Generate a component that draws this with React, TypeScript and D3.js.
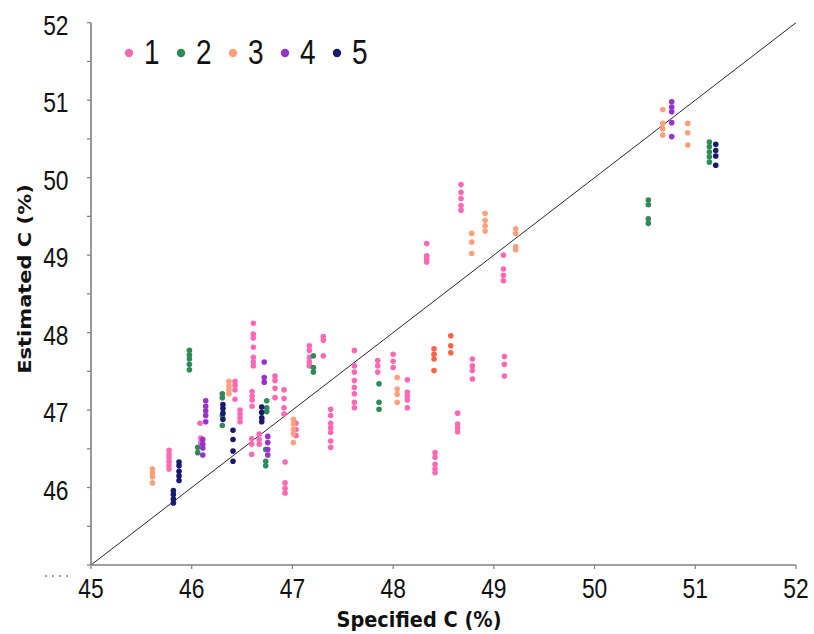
import React from "react";
import * as d3 from "d3";

// ---- data (clusters: [specified C, ...estimated C values]) ----
const series1: number[][] = [
  [45.775, 46.48, 46.43, 46.39, 46.34, 46.29, 46.24],
  [46.083, 46.83],
  [46.09, 46.64, 46.58],
  [46.43, 47.37, 47.32, 47.26, 47.14],
  [46.48, 47.0, 46.95, 46.9, 46.85],
  [46.612, 48.12, 47.98, 47.93, 47.81, 47.68, 47.62, 47.57],
  [46.6, 47.24, 47.18, 47.13, 47.05],
  [46.596, 46.63, 46.56, 46.43],
  [46.67, 46.69, 46.62, 46.56],
  [46.827, 47.44, 47.38, 47.28, 47.16],
  [46.917, 47.26, 47.15, 47.03, 46.95],
  [46.927, 46.33, 46.06, 45.99, 45.93],
  [47.036, 46.83, 46.75, 46.67],
  [47.168, 47.83, 47.77, 47.68, 47.62, 47.57],
  [47.307, 47.95, 47.9, 47.7],
  [47.38, 47.01, 46.93, 46.83, 46.77, 46.71, 46.6, 46.52],
  [47.615, 47.77, 47.57, 47.49, 47.38, 47.29, 47.21, 47.1, 47.03],
  [47.847, 47.64, 47.57, 47.49],
  [48.0, 47.72, 47.63, 47.55],
  [48.141, 47.39, 47.23, 47.18, 47.13, 47.03],
  [48.416, 46.45, 46.39, 46.3, 46.24, 46.19],
  [48.64, 46.96, 46.82, 46.77, 46.72],
  [48.787, 47.66, 47.57, 47.51, 47.4],
  [49.105, 47.69, 47.59, 47.44],
  [48.674, 49.91, 49.81, 49.73, 49.64, 49.58],
  [48.333, 49.15, 48.99, 48.95, 48.91],
  [49.095, 49.0, 48.82, 48.74, 48.67],
];
const series2: number[][] = [
  [45.977, 47.77, 47.71, 47.66, 47.59, 47.52],
  [46.06, 46.52, 46.45],
  [46.304, 47.21, 47.16, 46.93, 46.8],
  [46.745, 47.12, 47.03, 46.98],
  [46.735, 46.49, 46.34, 46.28],
  [47.208, 47.7, 47.55, 47.49],
  [47.86, 47.34, 47.1, 47.01],
  [50.534, 49.71, 49.65, 49.47, 49.41],
  [51.14, 50.46, 50.4, 50.33, 50.27, 50.2],
];
const series3: number[][] = [
  [45.61, 46.24, 46.19, 46.14, 46.06],
  [46.37, 47.37, 47.31, 47.26, 47.21],
  [46.7, 46.88],
  [47.01, 46.88, 46.82, 46.75, 46.69, 46.58],
  [48.04, 47.42, 47.27, 47.2, 47.1],
  [48.913, 49.54, 49.45, 49.38, 49.31],
  [48.78, 49.28, 49.17, 49.02],
  [49.217, 49.34, 49.28, 49.11, 49.07],
  [50.677, 50.88, 50.7, 50.63, 50.55],
  [50.925, 50.7, 50.58, 50.42],
];
const series4: number[][] = [
  [46.139, 47.12, 47.05, 46.99, 46.93, 46.85],
  [46.11, 46.62, 46.56, 46.51, 46.42],
  [46.72, 47.62, 47.42, 47.36],
  [46.755, 46.66, 46.58, 46.49, 46.42],
  [50.766, 50.98, 50.91, 50.85, 50.71, 50.53],
];
const series5: number[][] = [
  [45.818, 45.96, 45.91, 45.85, 45.8],
  [45.874, 46.33, 46.28, 46.21, 46.15, 46.09],
  [46.31, 47.07, 47.02, 46.96, 46.88],
  [46.41, 46.74, 46.62, 46.47, 46.34],
  [46.695, 47.04, 46.97, 46.9, 46.85],
  [51.203, 50.43, 50.35, 50.28, 50.16],
];
const seriesExtra: number[][] = [
  [48.406, 47.79, 47.72, 47.66, 47.51],
  [48.572, 47.96, 47.83, 47.74],
];

const legendLabels = ["1", "2", "3", "4", "5"];
const colors = ["#ff69b4", "#2e8b57", "#ffa07a", "#9932cc", "#191970"];
const extraColor = "#ff6347";
const xTicks = [45, 46, 47, 48, 49, 50, 51, 52];
const yTickLabels = [46, 47, 48, 49, 50, 51, 52];
const yTicks = d3.range(45, 52.01, 0.5);

const W = 814;
const H = 634;
const x = d3.scaleLinear().domain([45, 52]).range([91, 796]);
const y = d3.scaleLinear().domain([45, 52]).range([565, 22.7]);

function toPoints(clusters: number[][]) {
  const pts: { x: number; y: number }[] = [];
  clusters.forEach((c) => {
    for (let i = 1; i < c.length; i++) pts.push({ x: c[0], y: c[i] });
  });
  return pts;
}

const allSeries = [series1, series2, series3, series4, series5];
const tickFont = "'Liberation Sans', Arial, sans-serif";
const titleFont = "'DejaVu Sans', 'Open Sans', sans-serif";
const axisColor = "#7f7f7f";
const SX = 0.8; // horizontal squeeze of the text

export default function App() {
  return (
    <svg width={W} height={H} style={{ position: "absolute", left: 0, top: 0, background: "#fff" }}>
      {/* diagonal 1:1 line */}
      <line x1={x(45)} y1={y(45)} x2={x(52)} y2={y(52)} stroke="#111" strokeWidth={0.9} />
      {/* points */}
      {allSeries.map((s, si) => (
        <g key={si}>
          {toPoints(s).map((p, i) => (
            <circle key={i} cx={x(p.x)} cy={y(p.y)} r={2.8} fill={colors[si]} />
          ))}
        </g>
      ))}
      <g>
        {toPoints(seriesExtra).map((p, i) => (
          <circle key={i} cx={x(p.x)} cy={y(p.y)} r={2.8} fill={extraColor} />
        ))}
      </g>
      {/* axes */}
      <line x1={x(45)} y1={y(45)} x2={x(52)} y2={y(45)} stroke={axisColor} strokeWidth={1.6} />
      <line x1={x(45)} y1={y(45)} x2={x(45)} y2={y(52)} stroke={axisColor} strokeWidth={1.6} />
      {xTicks.map((t) => (
        <g key={t}>
          <line x1={x(t)} x2={x(t)} y1={y(45)} y2={y(45) + 4} stroke={axisColor} strokeWidth={1.2} />
          <text
            transform={`translate(${x(t)},598) scale(${SX},1)`}
            textAnchor="middle"
            fontFamily={tickFont}
            fontSize={28.5}
            fill="#111"
          >
            {t}
          </text>
        </g>
      ))}
      {yTicks.map((t) => (
        <line key={t} x1={x(45) - 4} x2={x(45)} y1={y(t)} y2={y(t)} stroke={axisColor} strokeWidth={1.2} />
      ))}
      {yTickLabels.map((t) => (
        <text
          key={t}
          transform={`translate(68.5,${y(t) + 12}) scale(${SX},1)`}
          textAnchor="end"
          fontFamily={tickFont}
          fontSize={28.5}
          fill="#111"
        >
          {t}
        </text>
      ))}
      <line x1={45} x2={72} y1={576} y2={576} stroke="#444" strokeWidth={1} strokeDasharray="2,5" />
      {/* axis titles */}
      <text
        transform={`translate(419,627) scale(0.88,1)`}
        textAnchor="middle"
        fontFamily={titleFont}
        fontWeight="bold"
        fontSize={22}
        fill="#111"
      >
        Specified C (%)
      </text>
      <text
        transform={`translate(31,279) scale(${SX},1) rotate(-90)`}
        textAnchor="middle"
        fontFamily={titleFont}
        fontWeight="bold"
        fontSize={21}
        fill="#111"
      >
        Estimated C (%)
      </text>
      {/* legend */}
      {legendLabels.map((l, i) => (
        <g key={l}>
          <circle cx={129 + i * 52} cy={53} r={4.2} fill={colors[i]} />
          <text
            transform={`translate(${144 + i * 52},64) scale(${SX},1)`}
            fontFamily={tickFont}
            fontSize={35}
            fill="#111"
          >
            {l}
          </text>
        </g>
      ))}
    </svg>
  );
}
